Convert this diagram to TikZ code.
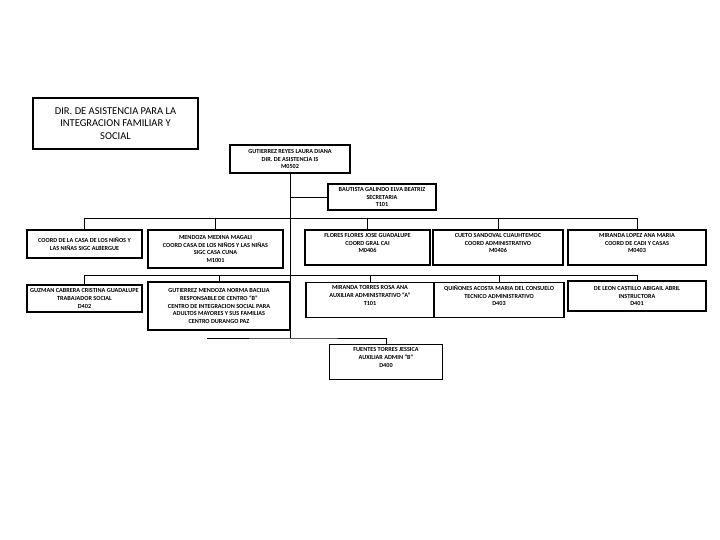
\documentclass[tikz,border=0pt]{standalone}
\usepackage{fontspec}
\setmainfont{Carlito}
\usetikzlibrary{positioning}
\begin{document}
\begin{tikzpicture}[
  x=1pt, y=-1pt,
  box/.style={draw, line width=1.6pt, align=center, inner sep=1pt,
              font=\fontsize{6.2}{7.8}\selectfont\bfseries},
  link/.style={line width=0.6pt}
]
  \useasboundingbox (0,0) rectangle (720,540);
  \node[box, font=\fontsize{10.5}{12.5}\selectfont, minimum width=165pt, minimum height=51pt] (dir) at (115.5,123.5)
    {DIR. DE ASISTENCIA PARA LA\\INTEGRACION FAMILIAR Y\\SOCIAL};
  \node[box, minimum width=120pt, minimum height=28pt] (jefa) at (290,159)
    {GUTIERREZ REYES LAURA DIANA\\DIR. DE ASISTENCIA IS\\M0502};
  \node[box, minimum width=108pt, minimum height=26pt] (secre) at (382,197)
    {BAUTISTA GALINDO ELVA BEATRIZ\\SECRETARIA\\T101};
  % primera fila
  \node[box, minimum width=115pt, minimum height=28pt] (albergue) at (84.5,244)
    {COORD DE LA CASA DE LOS NIÑOS Y\\LAS NIÑAS SIGC ALBERGUE};
  \node[box, minimum width=135pt, minimum height=38pt] (cuna) at (215.5,249)
    {MENDOZA MEDINA MAGALI\\COORD CASA DE LOS NIÑOS Y LAS NIÑAS\\SIGC CASA CUNA\\M1001};
  \node[box, minimum width=125pt, minimum height=35pt] (cai) at (367.5,247.5)
    {FLORES FLORES JOSE GUADALUPE\\COORD GRAL CAI\\M0406\\[1pt]};
  \node[box, minimum width=130pt, minimum height=35pt] (admin) at (498,247.5)
    {CUETO SANDOVAL CUAUHTEMOC\\COORD ADMINISTRATIVO\\M0406\\[1pt]};
  \node[box, minimum width=138pt, minimum height=35pt] (cadi) at (637,247.5)
    {MIRANDA LOPEZ ANA MARIA\\COORD DE CADI Y CASAS\\M0403\\[1pt]};
  % segunda fila
  \node[box, minimum width=115pt, minimum height=27pt] (social) at (84.5,298.5)
    {GUZMAN CABRERA CRISTINA GUADALUPE\\TRABAJADOR SOCIAL\\D402};
  \node[box, minimum width=142pt, minimum height=48pt] (centro) at (219,306)
    {GUTIERREZ MENDOZA NORMA BACILIA\\RESPONSABLE DE CENTRO ``B''\\CENTRO DE INTEGRACION SOCIAL PARA\\ADULTOS MAYORES Y SUS FAMILIAS\\CENTRO DURANGO PAZ};
  \node[box, minimum width=128pt, minimum height=35pt] (auxa) at (370,300)
    {MIRANDA TORRES ROSA ANA\\AUXILIAR ADMINISTRATIVO ``A''\\T101\\[1pt]};
  \node[box, minimum width=130pt, minimum height=35pt] (tecnico) at (499,300)
    {QUIÑONES ACOSTA MARIA DEL CONSUELO\\TECNICO ADMINISTRATIVO\\D403\\[1pt]};
  \node[box, minimum width=138pt, minimum height=30pt] (instr) at (637,296)
    {DE LEON CASTILLO ABIGAIL ABRIL\\INSTRUCTORA\\D401};
  \node[box, minimum width=113pt, minimum height=35pt] (auxb) at (386,362)
    {FUENTES TORRES JESSICA\\AUXILIAR ADMIN ``B''\\D400\\[1pt]};
  % lineas
  \coordinate (bus1) at (290,218);
  \coordinate (bus2) at (290,275);
  \coordinate (fin) at (290,338);
  \coordinate (cola) at (207,338);
  \draw[link] (jefa.south) -- (fin);
  \draw[link] (jefa.south |- secre.west) -- (secre.west);
  \draw[link] (albergue.north |- bus1) -- (cadi.north |- bus1);
  \foreach \n in {albergue, cuna, cai, admin, cadi}
    \draw[link] (\n.north |- bus1) -- (\n.north);
  \draw[link] (social.north |- bus2) -- (instr.north |- bus2);
  \foreach \n in {social, centro, auxa, tecnico, instr}
    \draw[link] (\n.north |- bus2) -- (\n.north);
  \draw[link] (cola) -- (fin) -| (auxb.north);
\end{tikzpicture}
\end{document}
